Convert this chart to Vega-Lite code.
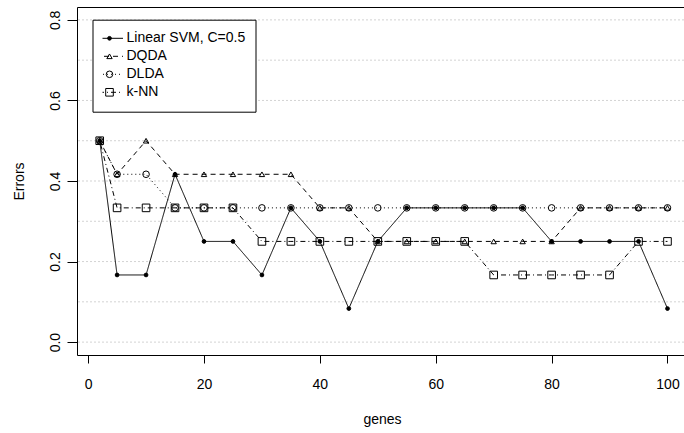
{
  "$schema": "https://vega.github.io/schema/vega-lite/v6.json",
  "width": 607,
  "height": 348,
  "autosize": {"type": "none"},
  "padding": {"left": 77, "top": 7, "right": 0, "bottom": 78},
  "background": "white",
  "config": {
    "font": "Liberation Sans",
    "view": {"stroke": "black", "strokeWidth": 1},
    "axis": {
      "domain": false,
      "grid": false,
      "tickColor": "black",
      "tickWidth": 1,
      "labelColor": "black",
      "titleColor": "black",
      "labelFont": "Liberation Sans",
      "titleFont": "Liberation Sans",
      "labelFontSize": 14,
      "titleFontSize": 14,
      "titleFontWeight": "normal"
    }
  },
  "datasets": {
    "grid": [
      {"level": 0}, {"level": 0.1}, {"level": 0.2}, {"level": 0.3}, {"level": 0.4},
      {"level": 0.5}, {"level": 0.6}, {"level": 0.7}, {"level": 0.8}
    ],
    "scores": [
      {"genes": 2, "errors": 0.5, "method": "Linear SVM, C=0.5"},
      {"genes": 5, "errors": 0.1667, "method": "Linear SVM, C=0.5"},
      {"genes": 10, "errors": 0.1667, "method": "Linear SVM, C=0.5"},
      {"genes": 15, "errors": 0.4167, "method": "Linear SVM, C=0.5"},
      {"genes": 20, "errors": 0.25, "method": "Linear SVM, C=0.5"},
      {"genes": 25, "errors": 0.25, "method": "Linear SVM, C=0.5"},
      {"genes": 30, "errors": 0.1667, "method": "Linear SVM, C=0.5"},
      {"genes": 35, "errors": 0.3333, "method": "Linear SVM, C=0.5"},
      {"genes": 40, "errors": 0.25, "method": "Linear SVM, C=0.5"},
      {"genes": 45, "errors": 0.0833, "method": "Linear SVM, C=0.5"},
      {"genes": 50, "errors": 0.25, "method": "Linear SVM, C=0.5"},
      {"genes": 55, "errors": 0.3333, "method": "Linear SVM, C=0.5"},
      {"genes": 60, "errors": 0.3333, "method": "Linear SVM, C=0.5"},
      {"genes": 65, "errors": 0.3333, "method": "Linear SVM, C=0.5"},
      {"genes": 70, "errors": 0.3333, "method": "Linear SVM, C=0.5"},
      {"genes": 75, "errors": 0.3333, "method": "Linear SVM, C=0.5"},
      {"genes": 80, "errors": 0.25, "method": "Linear SVM, C=0.5"},
      {"genes": 85, "errors": 0.25, "method": "Linear SVM, C=0.5"},
      {"genes": 90, "errors": 0.25, "method": "Linear SVM, C=0.5"},
      {"genes": 95, "errors": 0.25, "method": "Linear SVM, C=0.5"},
      {"genes": 100, "errors": 0.0833, "method": "Linear SVM, C=0.5"},
      {"genes": 2, "errors": 0.5, "method": "DQDA"},
      {"genes": 5, "errors": 0.4167, "method": "DQDA"},
      {"genes": 10, "errors": 0.5, "method": "DQDA"},
      {"genes": 15, "errors": 0.4167, "method": "DQDA"},
      {"genes": 20, "errors": 0.4167, "method": "DQDA"},
      {"genes": 25, "errors": 0.4167, "method": "DQDA"},
      {"genes": 30, "errors": 0.4167, "method": "DQDA"},
      {"genes": 35, "errors": 0.4167, "method": "DQDA"},
      {"genes": 40, "errors": 0.3333, "method": "DQDA"},
      {"genes": 45, "errors": 0.3333, "method": "DQDA"},
      {"genes": 50, "errors": 0.25, "method": "DQDA"},
      {"genes": 55, "errors": 0.25, "method": "DQDA"},
      {"genes": 60, "errors": 0.25, "method": "DQDA"},
      {"genes": 65, "errors": 0.25, "method": "DQDA"},
      {"genes": 70, "errors": 0.25, "method": "DQDA"},
      {"genes": 75, "errors": 0.25, "method": "DQDA"},
      {"genes": 80, "errors": 0.25, "method": "DQDA"},
      {"genes": 85, "errors": 0.3333, "method": "DQDA"},
      {"genes": 90, "errors": 0.3333, "method": "DQDA"},
      {"genes": 95, "errors": 0.3333, "method": "DQDA"},
      {"genes": 100, "errors": 0.3333, "method": "DQDA"},
      {"genes": 2, "errors": 0.5, "method": "DLDA"},
      {"genes": 5, "errors": 0.4167, "method": "DLDA"},
      {"genes": 10, "errors": 0.4167, "method": "DLDA"},
      {"genes": 15, "errors": 0.3333, "method": "DLDA"},
      {"genes": 20, "errors": 0.3333, "method": "DLDA"},
      {"genes": 25, "errors": 0.3333, "method": "DLDA"},
      {"genes": 30, "errors": 0.3333, "method": "DLDA"},
      {"genes": 35, "errors": 0.3333, "method": "DLDA"},
      {"genes": 40, "errors": 0.3333, "method": "DLDA"},
      {"genes": 45, "errors": 0.3333, "method": "DLDA"},
      {"genes": 50, "errors": 0.3333, "method": "DLDA"},
      {"genes": 55, "errors": 0.3333, "method": "DLDA"},
      {"genes": 60, "errors": 0.3333, "method": "DLDA"},
      {"genes": 65, "errors": 0.3333, "method": "DLDA"},
      {"genes": 70, "errors": 0.3333, "method": "DLDA"},
      {"genes": 75, "errors": 0.3333, "method": "DLDA"},
      {"genes": 80, "errors": 0.3333, "method": "DLDA"},
      {"genes": 85, "errors": 0.3333, "method": "DLDA"},
      {"genes": 90, "errors": 0.3333, "method": "DLDA"},
      {"genes": 95, "errors": 0.3333, "method": "DLDA"},
      {"genes": 100, "errors": 0.3333, "method": "DLDA"},
      {"genes": 2, "errors": 0.5, "method": "k-NN"},
      {"genes": 5, "errors": 0.3333, "method": "k-NN"},
      {"genes": 10, "errors": 0.3333, "method": "k-NN"},
      {"genes": 15, "errors": 0.3333, "method": "k-NN"},
      {"genes": 20, "errors": 0.3333, "method": "k-NN"},
      {"genes": 25, "errors": 0.3333, "method": "k-NN"},
      {"genes": 30, "errors": 0.25, "method": "k-NN"},
      {"genes": 35, "errors": 0.25, "method": "k-NN"},
      {"genes": 40, "errors": 0.25, "method": "k-NN"},
      {"genes": 45, "errors": 0.25, "method": "k-NN"},
      {"genes": 50, "errors": 0.25, "method": "k-NN"},
      {"genes": 55, "errors": 0.25, "method": "k-NN"},
      {"genes": 60, "errors": 0.25, "method": "k-NN"},
      {"genes": 65, "errors": 0.25, "method": "k-NN"},
      {"genes": 70, "errors": 0.1667, "method": "k-NN"},
      {"genes": 75, "errors": 0.1667, "method": "k-NN"},
      {"genes": 80, "errors": 0.1667, "method": "k-NN"},
      {"genes": 85, "errors": 0.1667, "method": "k-NN"},
      {"genes": 90, "errors": 0.1667, "method": "k-NN"},
      {"genes": 95, "errors": 0.25, "method": "k-NN"},
      {"genes": 100, "errors": 0.25, "method": "k-NN"}
    ]
  },
  "layer": [
    {
      "data": {"name": "grid"},
      "mark": {"type": "rule", "stroke": "#d3d3d3", "strokeDash": [2, 2], "strokeWidth": 1},
      "encoding": {
        "y": {
          "field": "level", "type": "quantitative",
          "scale": {"domain": [-0.032, 0.832], "nice": false, "zero": false},
          "axis": {"title": "Errors", "values": [0, 0.2, 0.4, 0.6, 0.8], "format": ".1f", "labelAngle": -90, "labelAlign": "center", "labelBaseline": "alphabetic", "tickSize": 10, "labelPadding": 8, "titleX": -54, "titleBaseline": "alphabetic", "titleAlign": "center", "titleAngle": -90}
        }
      }
    },
    {
      "data": {"name": "scores"},
      "mark": {"type": "line", "color": "black", "strokeWidth": 1},
      "encoding": {
        "x": {
          "field": "genes", "type": "quantitative",
          "scale": {"domain": [-1.92, 102.85], "nice": false, "zero": false},
          "axis": {"title": "genes", "values": [0, 20, 40, 60, 80, 100], "tickSize": 8, "labelBaseline": "alphabetic", "labelPadding": 25, "titleX": 305, "titleY": 68, "titleBaseline": "alphabetic", "titleAlign": "center"}
        },
        "y": {
          "field": "errors", "type": "quantitative",
          "scale": {"domain": [-0.032, 0.832], "nice": false, "zero": false},
          "axis": {"title": "Errors", "values": [0, 0.2, 0.4, 0.6, 0.8], "format": ".1f", "labelAngle": -90, "labelAlign": "center", "labelBaseline": "alphabetic", "tickSize": 10, "labelPadding": 8, "titleX": -54, "titleBaseline": "alphabetic", "titleAlign": "center", "titleAngle": -90}
        },
        "strokeDash": {
          "field": "method", "type": "nominal",
          "sort": ["Linear SVM, C=0.5", "DQDA", "DLDA", "k-NN"],
          "scale": {"range": [[1, 0], [5, 4], [1, 3], [1, 3, 5, 3]]},
          "legend": {
            "orient": "none", "legendX": 15.5, "legendY": 12.7, "title": null,
            "symbolType": "stroke", "symbolSize": 784, "symbolStrokeWidth": 1, "symbolStrokeColor": "black",
            "symbolOffset": -8, "labelOffset": 3, "labelFontSize": 14, "labelFont": "Liberation Sans", "labelColor": "black",
            "labelLimit": 300, "padding": 10, "strokeColor": "black", "fillColor": "white",
            "clipHeight": 17.2, "rowPadding": 0, "zindex": 1
          }
        }
      }
    },
    {
      "data": {"name": "scores"},
      "mark": {"type": "point", "filled": true, "stroke": "black", "strokeWidth": 1, "opacity": 1},
      "encoding": {
        "x": {
          "field": "genes", "type": "quantitative",
          "scale": {"domain": [-1.92, 102.85], "nice": false, "zero": false},
          "axis": {"title": "genes", "values": [0, 20, 40, 60, 80, 100], "tickSize": 8, "labelBaseline": "alphabetic", "labelPadding": 25, "titleX": 305, "titleY": 68, "titleBaseline": "alphabetic", "titleAlign": "center"}
        },
        "y": {
          "field": "errors", "type": "quantitative",
          "scale": {"domain": [-0.032, 0.832], "nice": false, "zero": false},
          "axis": {"title": "Errors", "values": [0, 0.2, 0.4, 0.6, 0.8], "format": ".1f", "labelAngle": -90, "labelAlign": "center", "labelBaseline": "alphabetic", "tickSize": 10, "labelPadding": 8, "titleX": -54, "titleBaseline": "alphabetic", "titleAlign": "center", "titleAngle": -90}
        },
        "shape": {
          "field": "method", "type": "nominal",
          "scale": {"domain": ["Linear SVM, C=0.5", "DQDA", "DLDA", "k-NN"], "range": ["circle", "triangle-up", "circle", "square"]},
          "legend": {
            "orient": "none", "legendX": 15.5, "legendY": 12.7, "title": null,
            "symbolStrokeWidth": 1, "symbolStrokeColor": "black", "symbolOpacity": 1,
            "symbolOffset": 0, "labelFontSize": 14, "labelExpr": "''",
            "padding": 10, "clipHeight": 17.2, "rowPadding": 0, "zindex": 2,
            "encode": {"symbols": {"update": {"stroke": {"value": "black"}, "strokeWidth": {"value": 1}}}}
          }
        },
        "fill": {
          "field": "method", "type": "nominal",
          "scale": {"domain": ["Linear SVM, C=0.5", "DQDA", "DLDA", "k-NN"], "range": ["black", "transparent", "transparent", "transparent"]},
          "legend": {
            "orient": "none", "legendX": 15.5, "legendY": 12.7, "title": null,
            "symbolStrokeWidth": 1, "symbolStrokeColor": "black", "symbolOpacity": 1,
            "symbolOffset": 0, "labelFontSize": 14, "labelExpr": "''",
            "padding": 10, "clipHeight": 17.2, "rowPadding": 0, "zindex": 2,
            "encode": {"symbols": {"update": {"stroke": {"value": "black"}, "strokeWidth": {"value": 1}}}}
          }
        },
        "size": {
          "field": "method", "type": "nominal",
          "scale": {"domain": ["Linear SVM, C=0.5", "DQDA", "DLDA", "k-NN"], "range": [14, 58, 18, 28]},
          "legend": {
            "orient": "none", "legendX": 15.5, "legendY": 12.7, "title": null,
            "symbolStrokeWidth": 1, "symbolStrokeColor": "black", "symbolOpacity": 1,
            "symbolOffset": 0, "labelFontSize": 14, "labelExpr": "''",
            "padding": 10, "clipHeight": 17.2, "rowPadding": 0, "zindex": 2,
            "encode": {"symbols": {"update": {"stroke": {"value": "black"}, "strokeWidth": {"value": 1}}}}
          }
        }
      }
    }
  ]
}
